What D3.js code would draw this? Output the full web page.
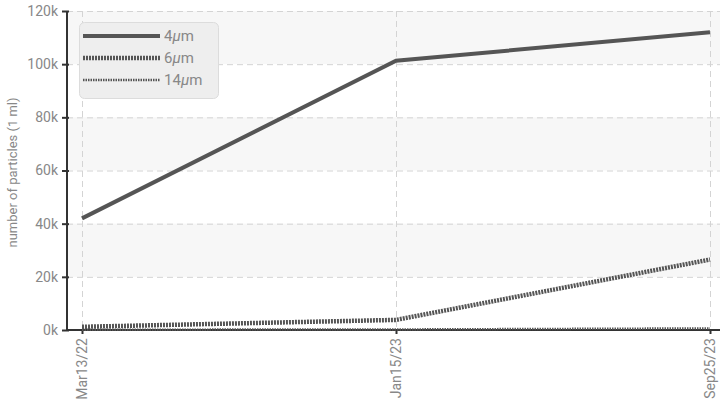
<!DOCTYPE html>
<html><head><meta charset="utf-8">
<script src="https://d3js.org/d3.v7.min.js"></script>
<style>body{margin:0;background:#fff;} svg{display:block;}</style>
</head><body>
<svg id="c" width="721" height="411"></svg>
<script>
const categories = ["Mar13/22", "Jan15/23", "Sep25/23"];
const s4 = [42000, 101300, 112000];
const s6 = [1200, 3800, 26500];
const s14 = [100, 200, 600];
const seriesNames = ["4", "6", "14"];
const yTicks = [0, 20000, 40000, 60000, 80000, 100000, 120000];

(function () {
const svg = d3.select("#c");
const font = "'Liberation Sans Narrow', 'Roboto', sans-serif";
const pl = 67, pr = 720, pt = 11, pb = 330;
const x = d3.scalePoint().domain(categories).range([82, 710]);
const y = d3.scaleLinear().domain([0, 120000]).range([pb, pt]);

// bands
for (let i = 0; i < yTicks.length - 1; i++) {
  if (i % 2 === 1) {
    svg.append("rect").attr("x", pl).attr("width", pr - pl)
      .attr("y", y(yTicks[i + 1])).attr("height", y(yTicks[i]) - y(yTicks[i + 1]))
      .attr("fill", "#f7f7f7");
  }
}
// grid
svg.append("g").selectAll("line").data(yTicks.slice(1)).join("line")
  .attr("x1", pl).attr("x2", pr).attr("y1", d => y(d) + 0.5).attr("y2", d => y(d) + 0.5)
  .attr("stroke", "#d4d4d4").attr("stroke-dasharray", "6,4");
svg.append("g").selectAll("line").data(categories).join("line")
  .attr("x1", d => x(d) + 0.5).attr("x2", d => x(d) + 0.5).attr("y1", pt).attr("y2", pb)
  .attr("stroke", "#d4d4d4").attr("stroke-dasharray", "6,4");

// axes
const ya = svg.append("g").attr("transform", `translate(${pl},0)`)
  .call(d3.axisLeft(y).tickValues(yTicks).tickFormat(d => (d / 1000) + "k").tickSize(5).tickPadding(4));
ya.select(".domain").attr("stroke", "#333").attr("stroke-width", 2).attr("d", `M0,${pt}V${pb}`);
ya.selectAll(".tick line").attr("stroke", "#333").attr("stroke-width", 2).attr("x1", 2);
ya.selectAll(".tick text").attr("fill", "#888").style("font-family", font).style("font-size", "14px");

const xa = svg.append("g").attr("transform", `translate(0,${pb})`)
  .call(d3.axisBottom(x).tickSize(4).tickPadding(6));
xa.select(".domain").attr("stroke", "#333").attr("stroke-width", 2).attr("d", `M${pl},0H${pr}`);
xa.selectAll(".tick line").attr("stroke", "#333").attr("stroke-width", 2);
xa.selectAll(".tick text").attr("fill", "#888").style("font-family", font).style("font-size", "14px")
  .attr("transform", "rotate(-90)").attr("text-anchor", "end").attr("x", -8).attr("y", 0).attr("dy", "0.35em");

// y label
svg.append("text").attr("transform", `translate(17,${(pt + pb) / 2 + 2}) rotate(-90)`)
  .attr("text-anchor", "middle").attr("fill", "#888").style("font-family", font).style("font-size", "13px")
  .text("number of particles (1 ml)");

// lines
const line = d3.line().x((d, i) => x(categories[i])).y(d => y(d));
const styles = [
  { data: s4, width: 4, dash: null },
  { data: s6, width: 4.5, dash: "2,1" },
  { data: s14, width: 2.5, dash: "1.5,1" }
];
styles.forEach(st => {
  svg.append("path").datum(st.data).attr("d", line).attr("fill", "none")
    .attr("stroke", "#555").attr("stroke-width", st.width)
    .attr("stroke-dasharray", st.dash);
});

// legend
const lg = svg.append("g");
lg.append("rect").attr("x", 79.5).attr("y", 22.5).attr("width", 139).attr("height", 76).attr("rx", 5)
  .attr("fill", "#eeeeee").attr("stroke", "#dcdcdc");
const ly = [36, 58, 80];
styles.forEach((st, i) => {
  lg.append("line").attr("x1", 83).attr("x2", 160).attr("y1", ly[i]).attr("y2", ly[i])
    .attr("stroke", "#555").attr("stroke-width", st.width).attr("stroke-dasharray", st.dash);
  const t = lg.append("text").attr("x", 164).attr("y", ly[i]).attr("dy", "0.35em")
    .attr("fill", "#888").style("font-family", font).style("font-size", "15px");
  t.append("tspan").text(seriesNames[i]);
  t.append("tspan").style("font-style", "italic").text("μ");
  t.append("tspan").text("m");
});
})();
</script>
</body></html>
